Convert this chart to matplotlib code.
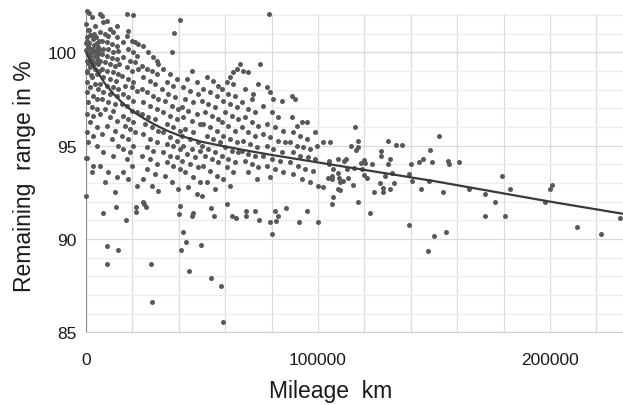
import matplotlib.pyplot as plt
from matplotlib.ticker import MultipleLocator
import numpy as np

plt.rcParams['font.family'] = ['Liberation Sans', 'DejaVu Sans']

# points: (mileage in 1000 km, remaining range in %)
pts_0_6k = [
    (0.6, 102.2), (1.4, 102.1), (0.0, 101.5), (0.7, 101.2), (2.4, 101.9), (3.9, 101.4),
    (1.7, 100.9), (0.3, 100.6), (3.2, 100.7), (4.6, 100.5), (1.0, 100.4), (2.4, 100.2),
    (5.3, 100.3), (0.3, 100.0), (3.9, 100.0), (5.7, 100.1), (1.7, 99.8), (4.6, 99.7),
    (0.6, 99.55), (3.2, 99.46), (5.3, 99.38), (1.7, 99.2), (3.9, 99.1), (0.6, 98.93),
    (4.9, 98.84), (2.4, 98.66), (0.3, 98.43), (3.9, 98.3), (1.7, 98.13), (5.3, 98.04),
    (0.6, 97.86), (3.2, 97.68), (4.6, 97.5), (1.0, 97.32), (2.4, 97.05), (4.9, 96.96),
    (0.6, 96.7), (3.2, 96.57), (1.7, 96.25), (4.6, 95.98), (0.6, 95.71), (2.9, 95.54),
    (1.0, 95.18), (4.6, 95.0), (0.6, 94.34), (3.2, 93.93), (2.4, 93.57), (0.0, 92.29),
    (0.2, 100.1), (0.8, 100.3), (1.5, 100.5), (2.0, 100.2), (2.8, 100.0), (3.5, 100.4),
    (4.2, 100.1), (5.0, 99.9), (1.2, 99.9), (2.5, 99.6), (3.8, 99.8), (0.5, 100.8),
    (2.2, 100.9), (4.5, 100.8), (5.5, 100.6), (1.0, 99.4), (3.0, 99.3), (4.8, 99.5),
    (0.4, 99.0), (2.0, 98.8), (5.8, 99.0), (1.5, 101.2), (3.3, 101.0), (0.1, 100.5),
    (0.0, 94.34),
]

pts_6_15k = [
    (6.0, 102.05), (6.8, 101.96), (7.2, 101.6), (9.2, 101.7), (10.3, 101.25), (13.5, 101.43),
    (6.0, 101.07), (8.2, 100.98), (9.6, 100.89), (11.8, 101.07), (13.2, 100.8), (6.8, 100.63),
    (8.9, 100.54), (11.1, 100.45), (13.2, 100.36), (7.5, 100.18), (9.6, 100.18), (11.8, 100.0),
    (13.9, 100.09), (6.8, 99.91), (8.9, 99.79), (11.1, 99.68), (13.2, 99.64), (6.0, 99.55),
    (8.2, 99.46), (10.3, 99.38), (12.5, 99.29), (14.4, 99.38), (6.8, 99.11), (8.9, 99.02),
    (11.8, 98.93), (13.9, 98.84), (7.5, 98.66), (10.3, 98.57), (12.9, 98.48), (6.0, 98.3),
    (8.9, 98.21), (11.8, 98.13), (13.9, 98.04), (7.5, 97.86), (10.3, 97.77), (13.2, 97.68),
    (6.8, 97.5), (9.6, 97.32), (12.5, 97.23), (8.2, 96.96), (11.8, 96.88), (6.0, 96.7),
    (10.3, 96.52), (13.2, 96.34), (8.9, 96.07), (12.5, 95.8), (6.8, 95.63), (11.1, 95.36),
    (13.9, 95.0), (7.5, 94.64), (11.8, 94.46), (6.0, 93.93), (9.6, 93.57), (13.2, 93.3),
    (8.2, 93.04), (12.5, 92.5),
]

pts_15_24k = [
    (17.8, 102.05), (20.1, 102.0), (18.2, 101.16), (17.5, 100.89), (19.7, 100.63), (21.1, 100.54),
    (22.6, 100.45), (16.1, 100.54), (18.2, 100.18), (20.4, 100.0), (21.8, 99.82), (16.1, 99.73),
    (19.0, 99.55), (21.1, 99.46), (17.5, 99.2), (19.7, 99.02), (22.6, 99.11), (15.4, 98.75),
    (18.2, 98.57), (20.4, 98.39), (16.8, 98.21), (19.7, 98.13), (21.8, 97.95), (16.1, 97.77),
    (18.2, 97.59), (20.4, 97.41), (15.4, 97.23), (17.5, 97.14), (19.7, 96.88), (21.8, 96.79),
    (16.1, 96.61), (18.2, 96.43), (20.4, 96.25), (16.8, 96.07), (19.0, 95.89), (21.1, 95.71),
    (15.4, 95.54), (18.2, 95.36), (20.4, 95.0), (16.1, 94.82), (19.0, 94.64), (17.5, 94.29),
    (19.7, 93.93), (16.1, 93.57), (18.2, 93.21), (21.8, 92.86),
]

pts_24_41k = [
    (24.7, 100.36), (26.9, 100.0), (29.0, 99.73), (30.5, 99.55), (31.2, 99.38), (24.0, 99.29),
    (26.2, 99.11), (28.3, 99.02), (30.5, 98.84), (24.7, 98.66), (27.6, 98.48), (29.7, 98.3),
    (24.0, 98.04), (26.2, 97.86), (29.0, 97.68), (31.2, 97.5), (24.7, 97.32), (27.6, 97.14),
    (30.5, 96.96), (24.0, 96.7), (26.9, 96.52), (29.7, 96.43), (25.4, 96.16), (28.3, 95.98),
    (31.2, 95.8), (24.7, 95.63), (27.6, 95.36), (30.5, 95.18), (26.2, 94.91), (29.0, 94.73),
    (24.0, 94.46), (27.6, 94.29), (30.5, 94.02), (26.2, 93.75), (29.7, 93.48), (24.7, 93.21),
    (28.3, 92.86), (31.2, 92.59),
    (36.9, 100.04), (37.9, 101.02), (40.5, 101.75), (33.3, 99.11), (36.2, 98.84), (39.1, 98.57),
    (34.8, 98.39), (37.6, 98.21), (32.6, 98.04), (35.5, 97.77), (38.4, 97.59), (34.1, 97.41),
    (36.9, 97.14), (39.8, 96.96), (33.3, 96.79), (36.2, 96.61), (39.1, 96.43), (34.8, 96.16),
    (37.6, 95.98), (40.5, 95.8), (33.3, 95.71), (36.2, 95.45), (39.1, 95.27), (34.8, 95.09),
    (37.6, 95.0), (40.5, 94.82), (33.3, 94.64), (36.2, 94.46), (39.1, 94.38), (34.8, 94.11),
    (37.6, 93.93), (40.5, 93.75), (34.1, 93.39), (36.9, 93.04), (39.8, 92.68),
]

pts_41_58k = [
    (45.6, 99.02), (43.4, 98.57), (47.7, 98.39), (42.0, 98.13), (44.8, 97.95), (48.4, 97.77),
    (42.7, 97.5), (46.3, 97.32), (41.2, 97.05), (44.1, 96.88), (47.7, 96.7), (42.0, 96.52),
    (45.6, 96.34), (49.1, 96.16), (42.7, 95.89), (46.3, 95.71), (41.2, 95.54), (44.8, 95.36),
    (48.4, 95.18), (42.0, 95.0), (45.6, 94.82), (49.1, 94.73), (43.4, 94.55), (47.0, 94.38),
    (41.2, 94.2), (44.8, 94.02), (48.4, 93.84), (42.7, 93.57), (46.3, 93.3), (49.1, 93.04),
    (44.1, 92.77), (47.7, 92.41),
    (52.0, 98.66), (54.9, 98.48), (57.0, 98.21), (50.6, 98.04), (53.5, 97.86), (56.3, 97.68),
    (49.9, 97.41), (52.7, 97.23), (55.6, 97.05), (51.3, 96.79), (54.2, 96.61), (57.0, 96.43),
    (50.6, 96.16), (53.5, 95.98), (56.3, 95.8), (52.0, 95.54), (54.9, 95.36), (57.8, 95.18),
    (49.9, 95.0), (52.7, 94.82), (55.6, 94.64), (51.3, 94.46), (54.2, 94.29), (57.0, 94.11),
    (50.6, 93.93), (53.5, 93.66), (56.3, 93.39), (52.0, 93.04), (55.6, 92.68), (49.9, 92.32),
]

pts_58_86k = [
    (62.1, 98.66), (63.5, 98.93), (65.0, 99.11), (66.4, 99.38), (60.6, 98.39), (63.5, 98.3),
    (58.5, 98.04), (61.4, 97.77), (64.2, 97.68), (59.2, 97.41), (62.1, 97.23), (65.0, 97.05),
    (59.9, 96.79), (62.8, 96.61), (65.7, 96.43), (58.5, 96.25), (61.4, 96.07), (64.2, 95.8),
    (59.2, 95.54), (62.1, 95.36), (65.0, 95.18), (59.9, 94.91), (62.8, 94.73), (65.7, 94.64),
    (58.5, 94.46), (61.4, 94.29), (64.2, 94.11), (60.6, 93.84), (63.5, 93.57), (59.2, 93.21),
    (62.1, 92.86),
    (67.8, 99.02), (70.0, 98.93), (75.0, 99.38), (74.3, 98.3), (72.1, 97.77), (68.5, 98.04),
    (71.4, 97.5), (67.1, 97.32), (70.0, 96.96), (72.9, 96.79), (68.5, 96.52), (71.4, 96.25),
    (74.3, 96.07), (67.1, 95.98), (70.0, 95.71), (72.9, 95.54), (67.8, 95.27), (70.7, 95.09),
    (73.6, 94.91), (67.1, 94.73), (70.0, 94.55), (72.9, 94.46), (68.5, 94.2), (71.4, 94.02),
    (74.3, 93.84), (70.0, 93.57), (73.6, 93.21),
    (79.0, 102.05), (77.9, 98.13), (79.3, 97.86), (80.8, 97.5), (84.4, 97.41), (76.4, 97.14),
    (80.0, 96.79), (82.9, 96.52), (77.9, 96.16), (81.5, 95.98), (85.1, 95.8), (76.4, 95.63),
    (79.3, 95.45), (82.9, 95.27), (85.8, 95.18), (77.9, 95.0), (80.8, 94.82), (84.4, 94.64),
    (76.4, 94.46), (80.0, 94.29), (83.6, 94.2), (77.9, 93.93), (81.5, 93.75), (85.1, 93.57),
    (79.3, 93.3),
]

pts_86_108k = [
    (88.7, 97.68), (90.1, 97.5), (88.7, 96.52), (90.8, 96.07), (93.0, 96.25), (95.1, 96.25),
    (89.4, 95.71), (92.3, 95.54), (95.1, 95.36), (98.7, 95.71), (87.9, 95.18), (90.8, 95.0),
    (93.7, 94.91), (96.6, 94.82), (99.4, 95.0), (89.4, 94.64), (92.3, 94.46), (95.8, 94.38),
    (98.7, 94.29), (87.9, 94.11), (91.5, 93.93), (94.4, 93.75), (98.0, 93.66), (89.4, 93.48),
    (93.0, 93.21), (96.6, 93.04), (100.2, 92.86),
    (102.0, 95.21), (105.2, 95.21), (104.9, 94.18), (104.9, 94.02), (102.3, 92.77), (104.4, 93.27),
    (105.9, 93.21), (106.6, 93.75), (105.9, 93.39), (106.6, 92.23), (106.2, 91.88),
]

pts_108k_up = [
    (115.9, 96.02), (117.1, 95.27), (117.4, 94.94), (116.2, 94.77), (114.4, 94.96), (130.3, 95.25),
    (133.5, 95.02), (136.3, 95.02), (152.3, 95.52), (148.1, 94.77), (127.1, 94.70), (127.1, 94.43),
    (130.9, 94.27), (130.2, 94.02), (108.7, 94.27), (111.2, 94.19), (112.1, 94.27), (118.5, 94.07),
    (120.0, 94.25), (120.2, 94.07), (123.3, 94.02), (140.1, 94.02), (143.5, 94.12), (145.2, 94.27),
    (149.1, 94.12), (156.2, 94.18), (156.7, 94.02), (160.9, 94.12),
    (108.7, 93.52), (109.0, 93.28), (109.3, 93.07), (110.9, 93.11), (113.1, 93.27), (112.6, 93.77),
    (115.6, 93.79), (114.9, 92.91), (108.5, 92.68), (109.3, 92.62), (117.1, 92.00), (122.3, 91.39),
    (120.0, 93.43), (121.1, 93.27), (118.8, 93.75), (124.0, 92.50), (128.0, 92.50), (128.1, 92.75),
    (126.9, 93.02), (128.9, 93.36), (132.0, 93.55), (132.9, 93.02), (131.0, 92.66), (139.2, 93.50),
    (140.7, 93.11), (144.5, 92.66), (139.1, 90.75), (147.8, 93.11), (154.0, 92.50), (150.0, 90.14),
    (147.5, 89.34), (155.0, 90.37), (165.1, 92.68), (172.1, 92.41), (176.3, 92.00), (171.8, 91.25),
    (179.4, 93.36), (183.0, 92.66), (180.7, 91.25), (197.8, 92.00), (200.1, 92.66), (201.1, 92.91),
    (211.6, 90.63), (222.1, 90.25), (230.3, 91.14),
]

pts_low = [
    (7.3, 91.38), (9.05, 89.64), (9.05, 88.64), (12.9, 91.73), (13.7, 89.43), (17.1, 91.03),
    (21.4, 91.43), (21.7, 91.70), (24.4, 91.96), (24.9, 91.89), (25.9, 91.70), (28.0, 88.64),
    (28.3, 86.64), (40.0, 91.34), (40.4, 91.75), (40.8, 89.41), (41.7, 90.38), (43.0, 89.86),
    (44.5, 88.27), (45.5, 91.25), (46.2, 91.38), (49.6, 89.66), (54.0, 91.64), (55.0, 91.25),
    (53.9, 87.93), (58.0, 87.48), (59.2, 85.57), (60.8, 91.89), (62.9, 91.25), (64.8, 91.14),
    (69.1, 91.25), (69.1, 91.48), (73.0, 91.48), (74.6, 91.0), (79.4, 90.89), (80.0, 90.25),
    (81.3, 91.48), (81.9, 90.98), (82.9, 91.25), (86.3, 91.64), (91.9, 90.89), (95.3, 91.48),
    (99.9, 90.89),
]

# trend line
trend_km = [0, 1, 2, 3.5, 5, 8, 12, 16, 20, 25, 30, 35, 40, 50, 60, 70, 80, 90, 100,
            110, 125, 150, 175, 200, 231.4]
trend_pct = [100.0, 99.75, 99.5, 99.2, 98.95, 98.35, 97.75, 97.25, 96.85, 96.45, 96.1,
             95.8, 95.55, 95.2, 94.95, 94.72, 94.5, 94.3, 94.1, 93.9, 93.6, 93.1,
             92.55, 92.0, 91.35]

x_ticks = [0, 100000, 200000]
y_ticks = [85, 90, 95, 100]

groups = [pts_0_6k, pts_6_15k, pts_15_24k, pts_24_41k, pts_41_58k,
          pts_58_86k, pts_86_108k, pts_108k_up, pts_low]
pts = np.array([p for g in groups for p in g])
mileage = pts[:, 0] * 1000
remaining = pts[:, 1]

fig = plt.figure(figsize=(6.23, 4.06), dpi=100)
ax = fig.add_axes([86 / 623, 1 - 333.3 / 406, 537 / 623, 318.3 / 406])

ax.scatter(mileage, remaining, s=13, color='#595959', linewidths=0,
           clip_on=False, zorder=3)
ax.plot(np.array(trend_km) * 1000, trend_pct, color='#3a3a3a', lw=1.6, zorder=4)

ax.set_xlim(0, 231500)
ax.set_ylim(85, 102.05)
ax.set_xticks(x_ticks)
ax.set_xticklabels([str(t) for t in x_ticks])
ax.set_yticks(y_ticks)
ax.xaxis.set_minor_locator(MultipleLocator(20000))
ax.yaxis.set_minor_locator(MultipleLocator(1))

ax.grid(which='both', axis='x', color='#dadada', lw=0.9)
ax.grid(which='major', axis='y', color='#dadada', lw=0.9)
ax.grid(which='minor', axis='y', color='#ececec', lw=0.9)
ax.set_axisbelow(True)

ax.tick_params(which='both', length=0, labelsize=12.5, labelcolor='#1a1a1a')
ax.tick_params(axis='x', pad=14)
ax.tick_params(axis='y', pad=7)

for s in ['top', 'right']:
    ax.spines[s].set_visible(False)
ax.spines['left'].set_color('#8c8c8c')
ax.spines['bottom'].set_color('#d0d0d0')

fig.text(331 / 623, 1 - 392 / 406, 'Mileage  km', ha='center', va='center',
         fontsize=16.5, color='#1a1a1a')
fig.text(25 / 623, 1 - 176 / 406, 'Remaining  range in %', ha='center', va='center',
         rotation=90, fontsize=16.5, color='#1a1a1a')

fig.savefig('out.png', dpi=100)
